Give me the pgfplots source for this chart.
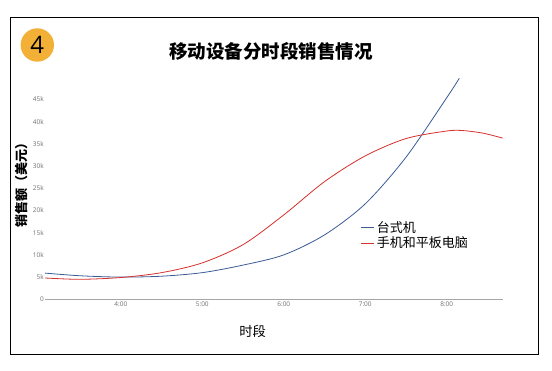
\documentclass[border=0pt]{standalone}
\usepackage{pgfplots}
\pgfplotsset{compat=1.18}
\usepackage{fontspec}
\setmainfont{Open Sans}
\newfontfamily\cjk{Noto Sans CJK SC}
\definecolor{cblue}{HTML}{3B5C96}
\definecolor{cred}{HTML}{D6302C}
\definecolor{circ}{HTML}{F2B136}
\definecolor{tickgray}{HTML}{707070}
\begin{document}
\begin{tikzpicture}
\fill[white] (0pt,0pt) rectangle (552pt,371pt);
\draw[black, line width=1pt] (10pt,16pt) rectangle (538pt,353pt);
\fill[circ] (37.3pt,326pt) circle (16.7pt);
\node at (37.3pt,326pt) {\fontsize{24}{24}\selectfont 4};
\node at (271pt,320pt) {\cjk\bfseries\fontsize{18.5}{20}\selectfont 移动设备分时段销售情况};
\node[rotate=90] at (21.7pt,189pt) {\cjk\bfseries\fontsize{13}{15}\selectfont 销售额（美元）};
\node at (252.7pt,39.3pt) {\cjk\fontsize{13.3}{15}\selectfont 时段};
\coordinate (A) at (45pt,71.7pt);
\begin{axis}[
  at={(A)}, anchor=south west,
  scale only axis, width=457.7pt, height=222pt,
  xmin=3.07, xmax=8.687, ymin=0, ymax=50000,
  clip=false,
  axis line style={draw=none},
  major tick length=0pt,
  scaled y ticks=false,
  xtick={4,5,6,7,8},
  xticklabels={4:00,5:00,6:00,7:00,8:00},
  ytick={0,5000,10000,15000,20000,25000,30000,35000,40000,45000},
  yticklabels={0,5k,10k,15k,20k,25k,30k,35k,40k,45k},
  /pgf/number format/assume math mode=true,
  tick label style={font=\fontsize{6.5}{7}\selectfont, text=tickgray},
  yticklabel style={inner sep=1pt},
  xticklabel style={inner sep=2pt},
  legend style={at={(rel axis cs:0.69,0.36)}, anchor=north west, draw=none, fill=none,
    font=\cjk\fontsize{13}{15}\selectfont, inner sep=0pt, row sep=-1pt},
  legend cell align=left,
  legend image code/.code={\draw[#1] (0pt,0pt) -- (13pt,0pt);},
]
\draw[gray!70, line width=0.8pt] (rel axis cs:0,0) -- (rel axis cs:1,0);
\addplot[cblue, line width=0.8pt, smooth] coordinates {
(3.07,5900) (3.5,5300) (4.0,5000) (4.5,5200) (5.0,6000) (5.5,7700) (6.0,10000)
(6.5,14500) (7.0,21500) (7.5,32000) (8.0,45400) (8.155,49800)};
\addlegendentry{台式机}
\addplot[cred, line width=0.8pt, smooth] coordinates {
(3.07,4800) (3.5,4500) (4.0,4900) (4.5,6000) (5.0,8200) (5.5,12300) (6.0,19000)
(6.5,26500) (7.0,32300) (7.5,36200) (8.0,37900) (8.2,38000) (8.45,37400) (8.687,36300)};
\addlegendentry{手机和平板电脑}
\end{axis}
\end{tikzpicture}
\end{document}
